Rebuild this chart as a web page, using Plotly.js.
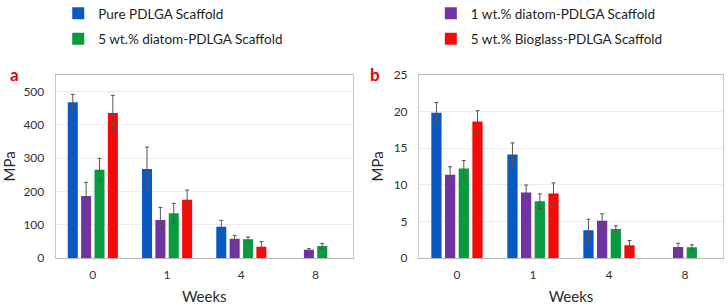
<!DOCTYPE html>
<html>
<head>
<meta charset="utf-8">
<script src="https://cdn.plot.ly/plotly-3.0.1.min.js"></script>
<style>html,body{margin:0;padding:0;background:#fff;}#chart{width:728px;height:308px;}</style>
</head>
<body>
<div id="chart"></div>
<script>
const weeks = ["0", "1", "4", "8"];
const seriesNames = ["Pure PDLGA Scaffold", "1 wt.% diatom-PDLGA Scaffold", "5 wt.% diatom-PDLGA Scaffold", "5 wt.% Bioglass-PDLGA Scaffold"];
const seriesColors = ["#0a59c2", "#7132a3", "#0a9a40", "#f50a0a"];

// Panel a (MPa)
const pureA = [467, 267, 94, null];
const pureAErr = [24, 66, 19, null];
const diatom1A = [186, 114, 58, 25];
const diatom1AErr = [41, 38, 10, 3];
const diatom5A = [265, 134, 56, 36];
const diatom5AErr = [34, 30, 7, 8];
const bioglassA = [435, 175, 34, null];
const bioglassAErr = [53, 29, 15, null];

// Panel b (MPa)
const pureB = [19.8, 14.1, 3.8, null];
const pureBErr = [1.4, 1.6, 1.5, null];
const diatom1B = [11.35, 8.95, 5.08, 1.51];
const diatom1BErr = [1.1, 1.0, 0.95, 0.5];
const diatom5B = [12.2, 7.74, 3.94, 1.47];
const diatom5BErr = [1.1, 1.0, 0.45, 0.33];
const bioglassB = [18.6, 8.8, 1.74, null];
const bioglassBErr = [1.5, 1.45, 0.64, null];

const panelA = [[pureA, pureAErr], [diatom1A, diatom1AErr], [diatom5A, diatom5AErr], [bioglassA, bioglassAErr]];
const panelB = [[pureB, pureBErr], [diatom1B, diatom1BErr], [diatom5B, diatom5BErr], [bioglassB, bioglassBErr]];
const legendOf = ["legend", "legend2", "legend", "legend2"];

const FONT = "Lato, 'DejaVu Sans', sans-serif";
const traces = [];
panelA.forEach((s, i) => {
  traces.push({
    type: "bar", x: weeks, y: s[0], name: seriesNames[i],
    marker: {color: seriesColors[i]},
    error_y: {type: "data", array: s[1], visible: true, color: "#555", thickness: 1, width: 2},
    xaxis: "x", yaxis: "y", legend: legendOf[i], legendgroup: "g" + i, showlegend: true
  });
});
panelB.forEach((s, i) => {
  traces.push({
    type: "bar", x: weeks, y: s[0], name: seriesNames[i],
    marker: {color: seriesColors[i]},
    error_y: {type: "data", array: s[1], visible: true, color: "#555", thickness: 1, width: 2},
    xaxis: "x2", yaxis: "y2", legend: legendOf[i], legendgroup: "g" + i, showlegend: false
  });
});

const tickFont = {family: FONT, size: 12, color: "#333"};
const titleFont = {family: FONT, size: 15, color: "#2a2a2a"};
function xax(domain, anchor) {
  return {domain: domain, anchor: anchor, type: "category", showline: true, mirror: true,
    linecolor: "#b4b4b4", linewidth: 1, ticks: "", tickfont: tickFont, ticklabelstandoff: 6,
    showgrid: false, zeroline: false, title: {text: "Weeks", font: titleFont, standoff: 10}, automargin: false};
}
function yax(domain, anchor, range, dtick) {
  return {domain: domain, anchor: anchor, range: range, dtick: dtick, showline: true, mirror: true,
    linecolor: "#c8c8c8", linewidth: 1, ticks: "", tickfont: tickFont, ticklabelstandoff: 8,
    showgrid: true, gridcolor: "#ececec", zeroline: false,
    title: {text: "MPa", font: titleFont, standoff: 6}, automargin: false};
}

const legFont = {family: FONT, size: 13.5, color: "#1e1e1e"};
const layout = {
  width: 728, height: 308,
  margin: {l: 0, r: 0, t: 0, b: 0, autoexpand: false},
  paper_bgcolor: "#fff", plot_bgcolor: "#fff",
  barmode: "group", bargap: 0.28, bargroupgap: 0.25,
  font: {family: FONT},
  xaxis: xax([0.0765, 0.4845], "y"),
  yaxis: yax([0.1623, 0.7575], "x", [0, 550], 100),
  xaxis2: xax([0.5755, 0.9931], "y2"),
  yaxis2: yax([0.1623, 0.7575], "x2", [0, 25], 5),
  legend: {x: 0.08, xanchor: "left", y: 1.0065, yanchor: "top", font: legFont,
    bgcolor: "rgba(0,0,0,0)", tracegroupgap: 5, traceorder: "grouped"},
  legend2: {x: 0.5918, xanchor: "left", y: 1.0065, yanchor: "top", font: legFont,
    bgcolor: "rgba(0,0,0,0)", tracegroupgap: 5, traceorder: "grouped"},
  annotations: [
    {text: "<b>a</b>", xref: "paper", yref: "paper", x: 14 / 728, y: 1 - 74 / 308, xanchor: "center", yanchor: "middle",
      showarrow: false, font: {family: FONT, size: 17, color: "#e8000b"}},
    {text: "<b>b</b>", xref: "paper", yref: "paper", x: 375 / 728, y: 1 - 74 / 308, xanchor: "center", yanchor: "middle",
      showarrow: false, font: {family: FONT, size: 17, color: "#e8000b"}}
  ]
};

Plotly.newPlot("chart", traces, layout, {displayModeBar: false, staticPlot: true});
</script>
</body>
</html>
